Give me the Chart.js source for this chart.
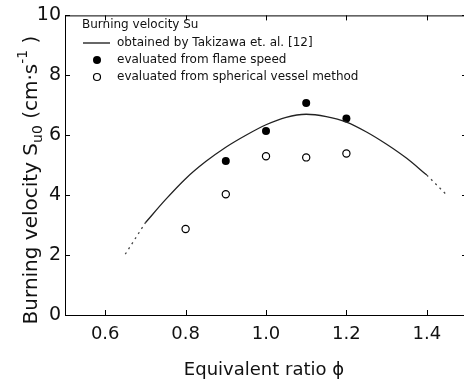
<!DOCTYPE html>
<html>
<head>
<meta charset="utf-8">
<script src="https://cdn.jsdelivr.net/npm/chart.js@4/dist/chart.umd.min.js"></script>
<style>
html,body{margin:0;padding:0;background:#fff;overflow:hidden;width:464px;height:382px;}
#wrap{width:480px;height:382px;}
</style>
</head>
<body>
<div id="wrap"><canvas id="c" width="480" height="382"></canvas></div>
<script>
// ---- data ----
const phiCurve = [0.70,0.75,0.80,0.85,0.90,0.95,1.00,1.05,1.10,1.15,1.20,1.25,1.30,1.35,1.40];
const suCurve  = [3.08,3.85,4.55,5.12,5.60,6.00,6.35,6.60,6.70,6.62,6.44,6.11,5.70,5.23,4.67];
const phiDashLeft = [0.65,0.70];
const suDashLeft  = [2.03,3.08];
const phiDashRight = [1.40,1.45];
const suDashRight  = [4.67,4.00];
const phiFlame = [0.9,1.0,1.1,1.2];
const suFlame  = [5.14,6.14,7.08,6.56];
const phiVessel = [0.8,0.9,1.0,1.1,1.2];
const suVessel  = [2.87,4.03,5.30,5.26,5.39];
const xTickValues = [0.6,0.8,1.0,1.2,1.4];
const yTickValues = [0,2,4,6,8,10];
const legendTitle = "Burning velocity Su";
const legendLabels = ["obtained by Takizawa et. al. [12]","evaluated from flame speed","evaluated from spherical vessel method"];
const xTitle = "Equivalent ratio \u03D5";

const zip = (xs, ys) => xs.map((x, i) => ({x: x, y: ys[i]}));
const FONT = '"DejaVu Sans", sans-serif';

const framePlugin = {
  id: 'frame',
  afterDraw(chart) {
    const ctx = chart.ctx, a = chart.chartArea;
    const xs = chart.scales.x, ys = chart.scales.y;
    ctx.save();
    ctx.strokeStyle = '#000';
    ctx.lineWidth = 1;
    ctx.beginPath();
    ctx.moveTo(a.right, a.top + 0.5); ctx.lineTo(a.left + 0.5, a.top + 0.5);
    ctx.lineTo(a.left + 0.5, a.bottom + 0.5); ctx.lineTo(a.right, a.bottom + 0.5);
    ctx.lineTo(a.right, a.top + 0.5);
    const tl = 5;
    xTickValues.forEach(v => {
      const px = Math.round(xs.getPixelForValue(v)) + 0.5;
      ctx.moveTo(px, a.bottom); ctx.lineTo(px, a.bottom - tl);
      ctx.moveTo(px, a.top); ctx.lineTo(px, a.top + tl);
    });
    yTickValues.forEach(v => {
      const py = Math.round(ys.getPixelForValue(v)) + 0.5;
      ctx.moveTo(a.left, py); ctx.lineTo(a.left + tl, py);
      ctx.moveTo(a.right, py); ctx.lineTo(a.right - tl, py);
    });
    ctx.stroke();

    // x title
    ctx.fillStyle = '#111';
    ctx.font = '18px ' + FONT;
    ctx.textAlign = 'center';
    ctx.textBaseline = 'alphabetic';
    ctx.fillText(xTitle, (a.left + a.right) / 2 - 2, 375);

    // y title with sub/superscripts
    const big = '20px ' + FONT, small = '14px ' + FONT;
    const parts = [
      {t: 'Burning velocity S', f: big, dy: 0},
      {t: 'u0', f: small, dy: 5},
      {t: ' (cm\u00B7s', f: big, dy: 0},
      {t: '-1', f: small, dy: -10},
      {t: ' )', f: big, dy: 0}
    ];
    let total = 0;
    parts.forEach(p => { ctx.font = p.f; p.w = ctx.measureText(p.t).width; total += p.w; });
    ctx.translate(37, 180);
    ctx.rotate(-Math.PI / 2);
    ctx.textAlign = 'left';
    let x = -total / 2;
    parts.forEach(p => { ctx.font = p.f; ctx.fillText(p.t, x, p.dy); x += p.w; });
    ctx.setTransform(1, 0, 0, 1, 0, 0);

    // legend
    ctx.font = '12px ' + FONT;
    ctx.textAlign = 'left';
    ctx.textBaseline = 'middle';
    ctx.fillStyle = '#111';
    ctx.fillText(legendTitle, 82, 25);
    const rows = [43, 60, 77];
    const tx = 117;
    ctx.beginPath(); ctx.lineWidth = 1.2;
    ctx.moveTo(83, rows[0]); ctx.lineTo(110, rows[0]); ctx.stroke();
    ctx.beginPath(); ctx.arc(97, rows[1], 4, 0, Math.PI * 2); ctx.fillStyle = '#000'; ctx.fill();
    ctx.beginPath(); ctx.arc(97, rows[2], 3.5, 0, Math.PI * 2); ctx.fillStyle = '#fff'; ctx.fill(); ctx.lineWidth = 1.2; ctx.stroke();
    ctx.fillStyle = '#111';
    legendLabels.forEach((s, i) => ctx.fillText(s, tx, rows[i]));
    ctx.restore();
  }
};

new Chart(document.getElementById('c'), {
  type: 'scatter',
  data: {
    datasets: [
      {data: zip(phiCurve, suCurve), showLine: true, borderColor: '#222', borderWidth: 1.3, pointRadius: 0, tension: 0.4, cubicInterpolationMode: 'monotone', fill: false},
      {data: zip(phiDashLeft, suDashLeft), showLine: true, borderColor: '#444', borderWidth: 1.3, borderDash: [2, 4], pointRadius: 0},
      {data: zip(phiDashRight, suDashRight), showLine: true, borderColor: '#444', borderWidth: 1.3, borderDash: [2, 4], pointRadius: 0},
      {data: zip(phiFlame, suFlame), pointRadius: 4, backgroundColor: '#000', borderColor: '#000', borderWidth: 0},
      {data: zip(phiVessel, suVessel), pointRadius: 3.6, backgroundColor: '#fff', borderColor: '#000', borderWidth: 1.2}
    ]
  },
  options: {
    responsive: false,
    animation: false,
    devicePixelRatio: 1,
    layout: {padding: {top: 15, right: 13, left: 0, bottom: 0}},
    plugins: {legend: {display: false}, tooltip: {enabled: false}},
    scales: {
      x: {
        type: 'linear', min: 0.5, max: 1.5,
        grid: {display: false, drawTicks: false},
        border: {display: false},
        afterBuildTicks: s => { s.ticks = xTickValues.map(v => ({value: v})); },
        afterFit: s => { s.height = 67; },
        ticks: {font: {family: FONT, size: 18}, color: '#111', padding: 9, maxRotation: 0,
                callback: v => Number(v).toFixed(1)}
      },
      y: {
        type: 'linear', min: 0, max: 10,
        grid: {display: false, drawTicks: false},
        border: {display: false},
        afterBuildTicks: s => { s.ticks = yTickValues.map(v => ({value: v})); },
        afterFit: s => { s.width = 65; },
        ticks: {font: {family: FONT, size: 19}, color: '#111', padding: 4,
                callback: v => String(v)}
      }
    }
  },
  plugins: [framePlugin]
});
</script>
</body>
</html>
